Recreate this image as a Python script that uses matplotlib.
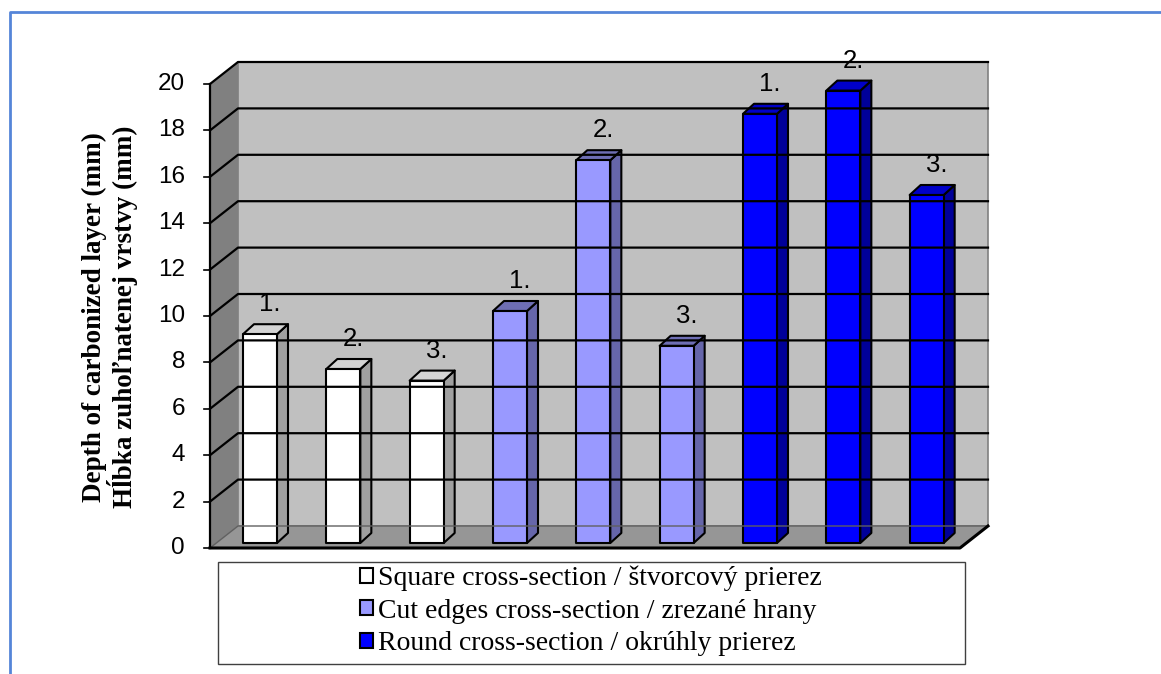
import matplotlib.pyplot as plt
from matplotlib.patches import Polygon, Rectangle, Patch
from matplotlib.lines import Line2D

# data
groups = ["Square cross-section / štvorcový prierez",
          "Cut edges cross-section / zrezané hrany",
          "Round cross-section / okrúhly prierez"]
sample_labels = ["1.", "2.", "3."]
square_vals = [9.0, 7.5, 7.0]
cut_vals = [10.0, 16.5, 8.5]
round_vals = [18.5, 19.5, 15.0]
yticks = list(range(0, 21, 2))
ylabel = "Depth of carbonized layer (mm)\nHĺbka zuhoľnatenej vrstvy (mm)"

# colours: front, side, top
styles = [("#FFFFFF", "#A0A0A0", "#D4D4D4"),
          ("#9999FF", "#6666AA", "#6E6EB4"),
          ("#0000FF", "#000099", "#0000C8")]

W, H = 1161, 674
fig = plt.figure(figsize=(W / 100, H / 100), dpi=100)
# front plane of the 3d box
ax = fig.add_axes([210 / W, (H - 548) / H, 750 / W, 464 / H])
n = 9
ax.set_xlim(0, n)
ax.set_ylim(0, 20)
ax.axis("off")

px_x = 750 / n      # pixels per category
px_y = 464 / 20     # pixels per unit
DX, DY = 28 / px_x, 22 / px_y          # wall depth
FX, FY = 6 / px_x, 5 / px_y            # bar front offset
BX, BY = 11 / px_x, 10 / px_y          # bar depth
bw = 34 / px_x

kw = dict(clip_on=False)
# walls and floor
ax.add_patch(Polygon([(0, 0), (0, 20), (DX, 20 + DY), (DX, DY)], closed=True,
                     fc="#808080", ec="none", **kw))
ax.add_patch(Polygon([(DX, DY), (n + DX, DY), (n + DX, 20 + DY), (DX, 20 + DY)], closed=True,
                     fc="#C0C0C0", ec="#808080", lw=1.2, **kw))
ax.add_patch(Polygon([(0, 0), (n, 0), (n + DX, DY), (DX, DY)], closed=True,
                     fc="#969696", ec="none", **kw))
# gridlines
for k in yticks[1:]:
    ax.add_line(Line2D([0, DX, n + DX], [k, k + DY, k + DY], color="black", lw=1.6, **kw))
ax.add_line(Line2D([0, DX, n + DX], [0, DY, DY], color="#606060", lw=1.0, **kw))
# outer edges
ax.add_line(Line2D([0, 0], [0, 20], color="black", lw=1.6, **kw))
ax.add_line(Line2D([0, n, n + DX], [0, 0, DY], color="black", lw=2.2, **kw))
for k in yticks:
    ax.add_line(Line2D([-6 / px_x, 0], [k, k], color="black", lw=1.2, **kw))
    ax.text(-25 / px_x, k, str(k), ha="right", va="center", fontsize=17.5,
            family="Liberation Sans")

# bars
series = [square_vals, cut_vals, round_vals]
i = 0
for s, vals in enumerate(series):
    front, side, top = styles[s]
    for j, v in enumerate(vals):
        x0 = i + 0.324 + FX
        x1 = x0 + bw
        y0 = FY
        y1 = FY + v
        ax.add_patch(Polygon([(x1, y0), (x1 + BX, y0 + BY), (x1 + BX, y1 + BY), (x1, y1)],
                             closed=True, fc=side, ec="black", lw=1.5, joinstyle="round", **kw))
        ax.add_patch(Polygon([(x0, y1), (x1, y1), (x1 + BX, y1 + BY), (x0 + BX, y1 + BY)],
                             closed=True, fc=top, ec="black", lw=1.5, joinstyle="round", **kw))
        ax.add_patch(Polygon([(x0, y0), (x1, y0), (x1, y1), (x0, y1)],
                             closed=True, fc=front, ec="black", lw=1.5, joinstyle="round", **kw))
        ax.text((x0 + x1 + BX) / 2 + 0.05, y1 + BY + 8 / px_y, sample_labels[j],
                ha="center", va="bottom", fontsize=18.5, family="Liberation Sans")
        i += 1

fig.text(110 / W, 1 - 317 / H, ylabel, rotation=90, ha="center", va="center",
         multialignment="center", fontsize=19.5, fontweight="bold",
         family="Liberation Serif", linespacing=1.0)

# legend box
fig.patches.append(Rectangle((218 / W, 1 - 664 / H), 747 / W, 102 / H,
                             transform=fig.transFigure, fc="white", ec="#404040", lw=1.0))
handles = [Patch(fc=st[0], ec="black", lw=1.5) for st in styles]
fig.legend(handles, groups, loc="center", bbox_to_anchor=(591 / W, 1 - 611 / H),
           frameon=False, prop={"family": "Liberation Serif", "size": 20},
           handlelength=0.45, handleheight=0.45, handletextpad=0.2, labelspacing=0.27,
           borderpad=0)

# outer border
fig.add_artist(Line2D([10 / W, 10 / W, 1], [0, 1 - 12 / H, 1 - 12 / H],
                      transform=fig.transFigure, color="#5585D8", lw=2))

fig.savefig("out.png", dpi=100)
